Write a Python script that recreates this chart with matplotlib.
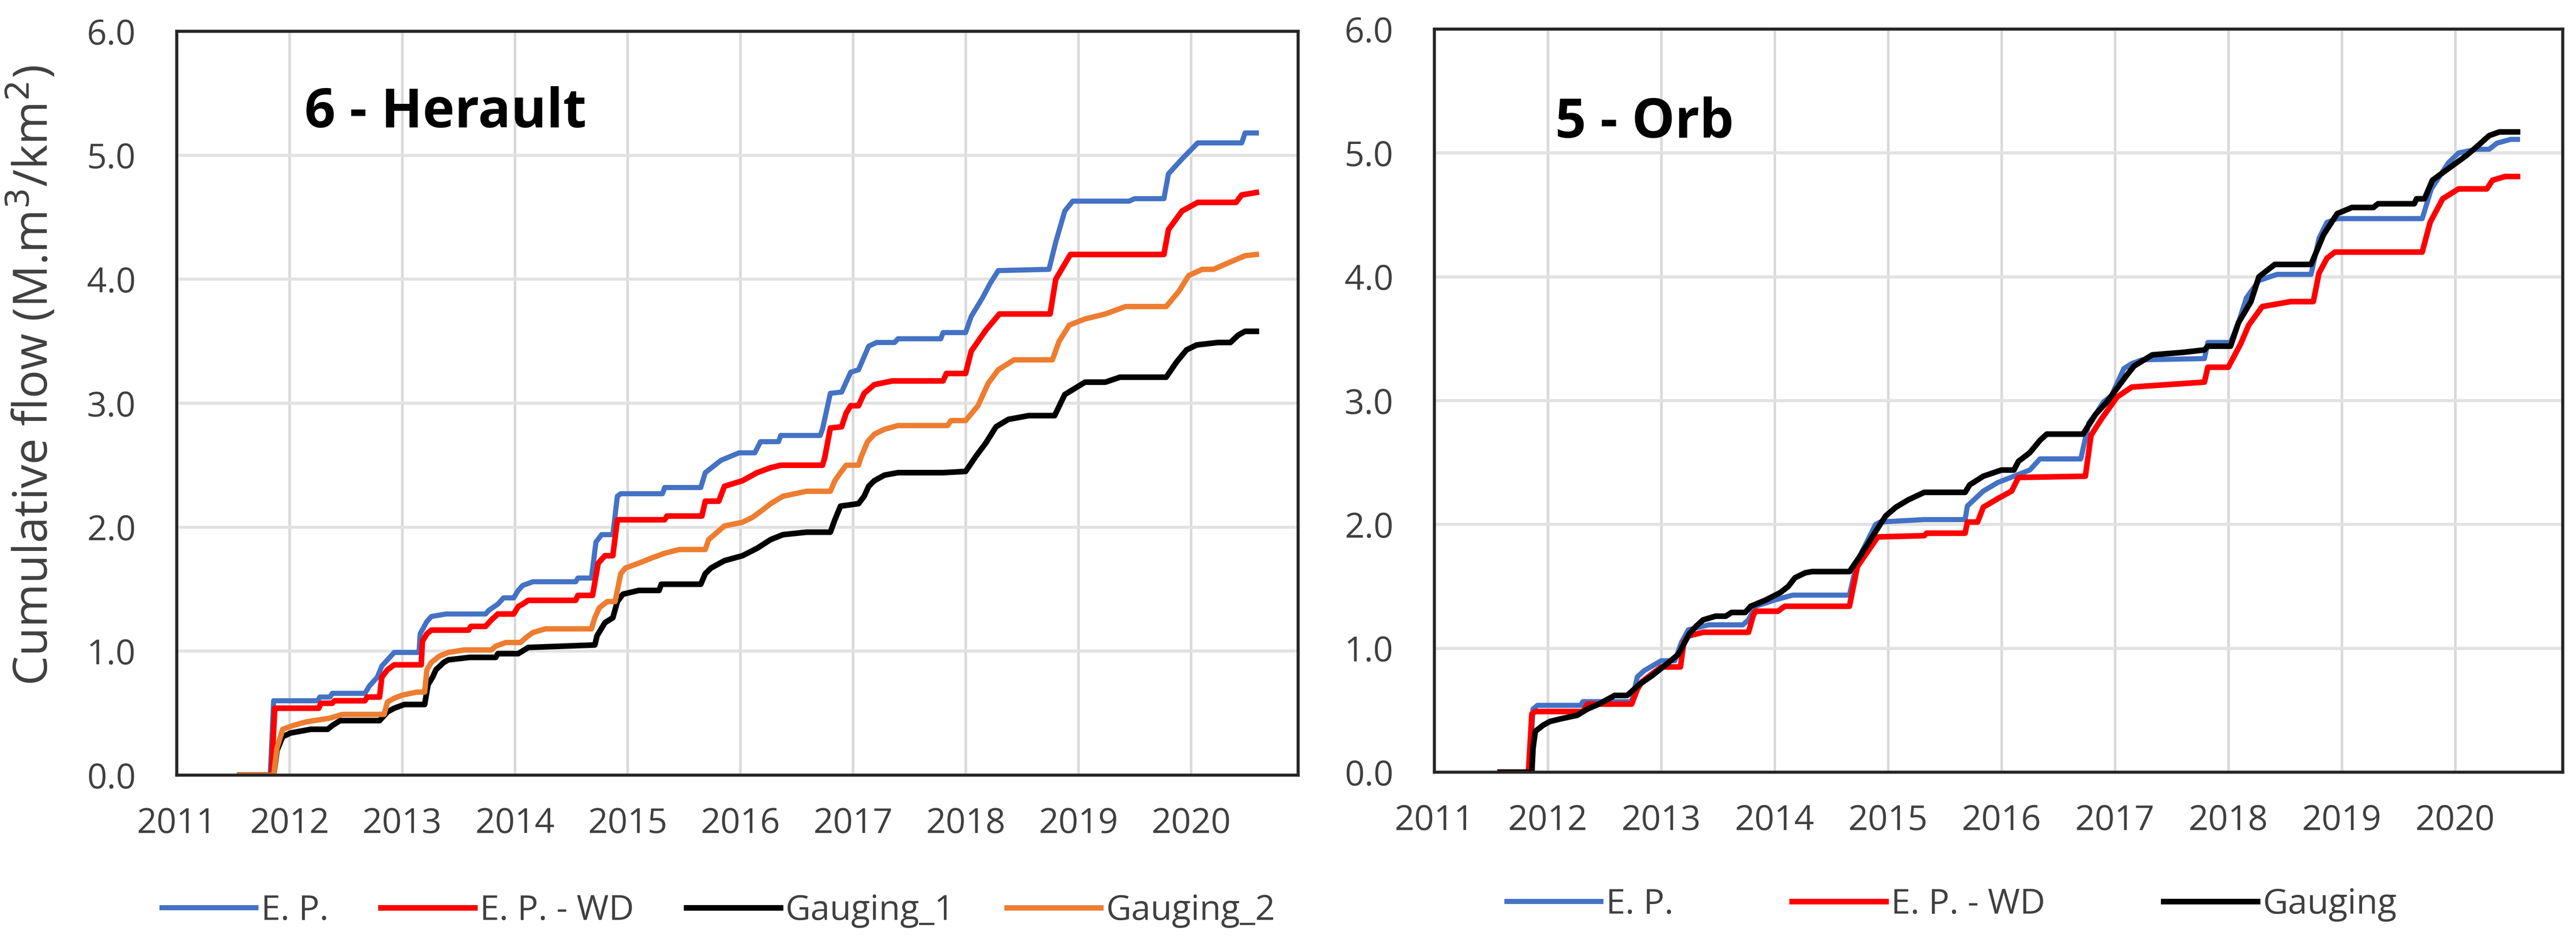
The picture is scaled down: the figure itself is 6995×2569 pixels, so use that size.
import numpy as np
import matplotlib
matplotlib.use('Agg')
import matplotlib.pyplot as plt

plt.rcParams['font.family'] = ['Open Sans', 'DejaVu Sans']

# ---- 6 - Herault ----
her_ep_x = [2011.56, 2011.83, 2011.86, 2012.25, 2012.27, 2012.36, 2012.38, 2012.67, 2012.71, 2012.78,
            2012.82, 2012.87, 2012.93, 2013.15, 2013.16, 2013.22, 2013.26, 2013.39, 2013.74, 2013.77,
            2013.85, 2013.90, 2013.99, 2014.03, 2014.07, 2014.16, 2014.54, 2014.56, 2014.68, 2014.72,
            2014.77, 2014.87, 2014.91, 2014.94, 2015.31, 2015.33, 2015.65, 2015.69, 2015.83, 2015.99,
            2016.13, 2016.18, 2016.34, 2016.36, 2016.71, 2016.73, 2016.80, 2016.90, 2016.98, 2017.05,
            2017.14, 2017.21, 2017.37, 2017.40, 2017.78, 2017.80, 2018.00, 2018.05, 2018.15, 2018.22,
            2018.29, 2018.74, 2018.80, 2018.88, 2018.95, 2019.45, 2019.50, 2019.76, 2019.80, 2019.92,
            2020.06, 2020.45, 2020.48, 2020.58]
her_ep_y = [0.0, 0.0, 0.60, 0.60, 0.63, 0.63, 0.66, 0.66, 0.72, 0.79,
            0.88, 0.93, 0.99, 0.99, 1.14, 1.24, 1.28, 1.30, 1.30, 1.33,
            1.38, 1.43, 1.43, 1.49, 1.53, 1.56, 1.56, 1.59, 1.59, 1.88,
            1.94, 1.94, 2.25, 2.27, 2.27, 2.32, 2.32, 2.44, 2.54, 2.60,
            2.60, 2.69, 2.69, 2.74, 2.74, 2.79, 3.08, 3.09, 3.25, 3.27,
            3.46, 3.49, 3.49, 3.52, 3.52, 3.57, 3.57, 3.70, 3.85, 3.97,
            4.07, 4.08, 4.30, 4.55, 4.63, 4.63, 4.65, 4.65, 4.85, 4.97,
            5.10, 5.10, 5.18, 5.18]

her_wd_x = [2011.56, 2011.84, 2011.87, 2012.26, 2012.28, 2012.38, 2012.40, 2012.67, 2012.69, 2012.80,
            2012.82, 2012.87, 2012.93, 2013.17, 2013.18, 2013.22, 2013.26, 2013.59, 2013.61, 2013.74,
            2013.79, 2013.85, 2013.99, 2014.03, 2014.07, 2014.12, 2014.54, 2014.56, 2014.69, 2014.74,
            2014.80, 2014.87, 2014.91, 2015.33, 2015.35, 2015.66, 2015.69, 2015.81, 2015.86, 2016.02,
            2016.15, 2016.27, 2016.36, 2016.73, 2016.75, 2016.80, 2016.90, 2016.94, 2016.98, 2017.05,
            2017.10, 2017.19, 2017.35, 2017.80, 2017.83, 2018.00, 2018.05, 2018.18, 2018.30, 2018.75,
            2018.80, 2018.93, 2019.76, 2019.80, 2019.92, 2020.06, 2020.40, 2020.45, 2020.58]
her_wd_y = [0.0, 0.0, 0.54, 0.54, 0.58, 0.58, 0.60, 0.60, 0.63, 0.63,
            0.79, 0.85, 0.89, 0.89, 1.08, 1.14, 1.17, 1.17, 1.20, 1.20,
            1.25, 1.30, 1.30, 1.36, 1.38, 1.41, 1.41, 1.45, 1.45, 1.71,
            1.77, 1.77, 2.06, 2.06, 2.09, 2.09, 2.21, 2.21, 2.33, 2.375,
            2.44, 2.48, 2.50, 2.50, 2.56, 2.80, 2.81, 2.92, 2.98, 2.98,
            3.08, 3.15, 3.18, 3.18, 3.24, 3.24, 3.42, 3.59, 3.72, 3.72,
            4.00, 4.20, 4.20, 4.40, 4.55, 4.62, 4.62, 4.68, 4.70]

her_g1_x = [2011.56, 2011.86, 2011.89, 2011.94, 2012.01, 2012.19, 2012.34, 2012.38, 2012.45, 2012.80,
            2012.87, 2012.93, 2013.02, 2013.20, 2013.23, 2013.27, 2013.30, 2013.37, 2013.41, 2013.60,
            2013.83, 2013.85, 2014.03, 2014.12, 2014.71, 2014.73, 2014.80, 2014.87, 2014.91, 2014.96,
            2015.10, 2015.28, 2015.30, 2015.65, 2015.69, 2015.74, 2015.86, 2016.02, 2016.15, 2016.27,
            2016.38, 2016.59, 2016.80, 2016.84, 2016.89, 2017.05, 2017.10, 2017.14, 2017.19, 2017.28,
            2017.40, 2017.80, 2018.00, 2018.09, 2018.18, 2018.27, 2018.38, 2018.56, 2018.79, 2018.88,
            2018.97, 2019.06, 2019.24, 2019.37, 2019.78, 2019.87, 2019.96, 2020.05, 2020.24, 2020.35,
            2020.42, 2020.48, 2020.58]
her_g1_y = [0.0, 0.0, 0.20, 0.31, 0.34, 0.37, 0.37, 0.40, 0.44, 0.44,
            0.51, 0.54, 0.57, 0.57, 0.73, 0.79, 0.85, 0.91, 0.93, 0.95,
            0.95, 0.98, 0.98, 1.03, 1.05, 1.125, 1.23, 1.27, 1.40, 1.46,
            1.49, 1.49, 1.54, 1.54, 1.625, 1.67, 1.73, 1.77, 1.83, 1.90,
            1.94, 1.96, 1.96, 2.06, 2.17, 2.19, 2.25, 2.33, 2.375, 2.42,
            2.44, 2.44, 2.45, 2.57, 2.68, 2.81, 2.87, 2.90, 2.90, 3.07,
            3.12, 3.17, 3.17, 3.21, 3.21, 3.33, 3.43, 3.47, 3.49, 3.49,
            3.55, 3.58, 3.58]

her_g2_x = [2011.56, 2011.86, 2011.89, 2011.94, 2012.03, 2012.15, 2012.36, 2012.47, 2012.84, 2012.87,
            2012.93, 2013.00, 2013.13, 2013.20, 2013.22, 2013.26, 2013.33, 2013.41, 2013.55, 2013.79,
            2013.83, 2013.92, 2014.05, 2014.10, 2014.16, 2014.27, 2014.68, 2014.71, 2014.75, 2014.82,
            2014.89, 2014.94, 2014.98, 2015.10, 2015.21, 2015.33, 2015.46, 2015.69, 2015.72, 2015.86,
            2016.02, 2016.11, 2016.20, 2016.27, 2016.38, 2016.59, 2016.80, 2016.84, 2016.89, 2016.94,
            2017.05, 2017.07, 2017.13, 2017.19, 2017.28, 2017.40, 2017.84, 2017.87, 2018.00, 2018.11,
            2018.20, 2018.29, 2018.43, 2018.77, 2018.83, 2018.92, 2019.06, 2019.24, 2019.42, 2019.78,
            2019.89, 2019.98, 2020.10, 2020.20, 2020.30, 2020.48, 2020.58]
her_g2_y = [0.0, 0.0, 0.22, 0.37, 0.40, 0.43, 0.46, 0.49, 0.49, 0.59,
            0.62, 0.645, 0.67, 0.67, 0.85, 0.91, 0.96, 0.99, 1.01, 1.01,
            1.04, 1.07, 1.07, 1.11, 1.15, 1.18, 1.18, 1.27, 1.35, 1.40,
            1.40, 1.625, 1.67, 1.71, 1.75, 1.79, 1.82, 1.82, 1.90, 2.01,
            2.04, 2.08, 2.14, 2.19, 2.25, 2.29, 2.29, 2.375, 2.44, 2.50,
            2.50, 2.56, 2.69, 2.75, 2.79, 2.82, 2.82, 2.86, 2.86, 2.98,
            3.16, 3.27, 3.35, 3.35, 3.50, 3.63, 3.68, 3.72, 3.78, 3.78,
            3.90, 4.03, 4.08, 4.08, 4.12, 4.19, 4.20]

# ---- 5 - Orb ----
orb_ep_x = [2011.58, 2011.84, 2011.87, 2011.91, 2012.29, 2012.31, 2012.74, 2012.79, 2012.85, 2013.00,
            2013.12, 2013.18, 2013.24, 2013.42, 2013.72, 2013.77, 2013.83, 2014.00, 2014.16, 2014.66,
            2014.73, 2014.77, 2014.89, 2014.93, 2015.32, 2015.68, 2015.70, 2015.84, 2015.97, 2016.11,
            2016.25, 2016.34, 2016.70, 2016.77, 2016.83, 2016.90, 2016.97, 2017.08, 2017.15, 2017.24,
            2017.79, 2017.82, 2018.02, 2018.09, 2018.16, 2018.27, 2018.43, 2018.73, 2018.80, 2018.87,
            2018.96, 2019.71, 2019.79, 2019.94, 2020.03, 2020.19, 2020.30, 2020.37, 2020.49, 2020.55]
orb_ep_y = [0.0, 0.0, 0.51, 0.54, 0.54, 0.57, 0.57, 0.77, 0.82, 0.90,
            0.90, 1.05, 1.15, 1.19, 1.19, 1.23, 1.34, 1.39, 1.43, 1.43,
            1.71, 1.78, 2.00, 2.02, 2.04, 2.04, 2.15, 2.27, 2.34, 2.39,
            2.44, 2.53, 2.53, 2.82, 2.89, 2.99, 3.04, 3.26, 3.30, 3.33,
            3.34, 3.47, 3.47, 3.63, 3.83, 3.97, 4.02, 4.02, 4.31, 4.44,
            4.47, 4.47, 4.71, 4.92, 5.00, 5.03, 5.03, 5.08, 5.11, 5.11]

orb_wd_x = [2011.58, 2011.83, 2011.86, 2011.89, 2012.31, 2012.35, 2012.74, 2012.79, 2012.83, 2012.90,
            2013.00, 2013.17, 2013.20, 2013.24, 2013.37, 2013.77, 2013.81, 2013.83, 2014.03, 2014.09,
            2014.66, 2014.73, 2014.91, 2015.32, 2015.34, 2015.68, 2015.70, 2015.79, 2015.84, 2015.97,
            2016.09, 2016.15, 2016.74, 2016.79, 2016.88, 2017.02, 2017.15, 2017.79, 2017.82, 2018.00,
            2018.11, 2018.18, 2018.30, 2018.55, 2018.75, 2018.80, 2018.87, 2018.94, 2019.71, 2019.78,
            2019.89, 2020.03, 2020.28, 2020.33, 2020.44, 2020.55]
orb_wd_y = [0.0, 0.0, 0.47, 0.49, 0.49, 0.55, 0.55, 0.67, 0.73, 0.78,
            0.85, 0.85, 1.05, 1.10, 1.13, 1.13, 1.26, 1.30, 1.30, 1.34,
            1.34, 1.66, 1.90, 1.91, 1.93, 1.93, 2.02, 2.02, 2.14, 2.21,
            2.27, 2.38, 2.39, 2.72, 2.85, 3.03, 3.11, 3.15, 3.27, 3.27,
            3.46, 3.61, 3.76, 3.80, 3.80, 4.03, 4.15, 4.20, 4.20, 4.44,
            4.63, 4.71, 4.71, 4.78, 4.81, 4.81]

orb_g_x = [2011.58, 2011.86, 2011.87, 2011.89, 2011.96, 2012.02, 2012.11, 2012.26, 2012.35, 2012.45,
           2012.59, 2012.70, 2012.81, 2012.92, 2013.03, 2013.15, 2013.25, 2013.31, 2013.37, 2013.48,
           2013.57, 2013.62, 2013.74, 2013.79, 2013.92, 2014.05, 2014.12, 2014.18, 2014.27, 2014.33,
           2014.66, 2014.75, 2014.93, 2014.98, 2015.07, 2015.18, 2015.32, 2015.68, 2015.72, 2015.84,
           2016.00, 2016.11, 2016.15, 2016.25, 2016.34, 2016.40, 2016.72, 2016.83, 2016.93, 2017.10,
           2017.17, 2017.33, 2017.60, 2017.79, 2017.82, 2018.02, 2018.09, 2018.20, 2018.27, 2018.41,
           2018.73, 2018.84, 2018.96, 2019.09, 2019.28, 2019.32, 2019.64, 2019.66, 2019.73, 2019.80,
           2019.98, 2020.10, 2020.19, 2020.30, 2020.39, 2020.55]
orb_g_y = [0.0, 0.0, 0.19, 0.33, 0.38, 0.41, 0.43, 0.46, 0.51, 0.55,
           0.62, 0.62, 0.71, 0.78, 0.86, 0.95, 1.12, 1.18, 1.23, 1.26,
           1.26, 1.29, 1.29, 1.34, 1.39, 1.45, 1.50, 1.57, 1.61, 1.62,
           1.62, 1.74, 2.00, 2.07, 2.14, 2.20, 2.26, 2.26, 2.32, 2.39,
           2.44, 2.44, 2.51, 2.58, 2.68, 2.73, 2.73, 2.89, 2.99, 3.20,
           3.28, 3.37, 3.39, 3.41, 3.44, 3.44, 3.63, 3.80, 4.00, 4.10,
           4.10, 4.34, 4.51, 4.56, 4.56, 4.59, 4.59, 4.63, 4.63, 4.78,
           4.90, 4.98, 5.05, 5.14, 5.17, 5.17]

years = list(range(2011, 2021))
yticks = [0, 1, 2, 3, 4, 5, 6]

c_blue = '#4472C4'
c_red = '#FF0000'
c_black = '#000000'
c_orange = '#ED7D31'
txt_col = '#404040'

fig = plt.figure(figsize=(69.95, 25.69), dpi=100)
ax1 = fig.add_axes([0.0686, 0.1806, 0.4353, 0.7863])
ax2 = fig.add_axes([0.5568, 0.1837, 0.4381, 0.7855])


def style(ax):
    ax.set_xlim(2011, 2020.95)
    ax.set_ylim(0, 6)
    ax.set_xticks(years)
    ax.set_yticks(yticks)
    ax.set_yticklabels([f'{v:.1f}' for v in yticks])
    ax.grid(axis='x', color='#D9D9D9', lw=5)
    ax.grid(axis='y', color='#E2E2E2', lw=6)
    ax.set_axisbelow(True)
    ax.tick_params(axis='both', length=0, labelsize=68, labelcolor=txt_col)
    ax.tick_params(axis='y', pad=80)
    ax.tick_params(axis='x', pad=62)
    for s in ax.spines.values():
        s.set_color('#262626')
        s.set_linewidth(6)


style(ax1)
ax1.plot(her_ep_x, her_ep_y, color=c_blue, lw=10, label='E. P.')
ax1.plot(her_wd_x, her_wd_y, color=c_red, lw=11, label='E. P. - WD')
ax1.plot(her_g1_x, her_g1_y, color=c_black, lw=11, label='Gauging_1')
ax1.plot(her_g2_x, her_g2_y, color=c_orange, lw=10.5, label='Gauging_2')
ax1.text(0.114, 0.89, '6 - Herault', transform=ax1.transAxes, fontsize=106,
         fontweight='bold', va='center', ha='left')
ax1.legend(loc='center', bbox_to_anchor=(1951 / 6995, 0.037), bbox_transform=fig.transFigure,
           ncol=4, frameon=False, fontsize=68, labelcolor=txt_col, handlelength=2.7,
           handletextpad=0.15, columnspacing=1.5)

style(ax2)
ax2.plot(orb_ep_x, orb_ep_y, color=c_blue, lw=10, label='E. P.')
ax2.plot(orb_wd_x, orb_wd_y, color=c_red, lw=11, label='E. P. - WD')
ax2.plot(orb_g_x, orb_g_y, color=c_black, lw=11, label='Gauging')
ax2.text(0.107, 0.873, '5 - Orb', transform=ax2.transAxes, fontsize=106,
         fontweight='bold', va='center', ha='left')
ax2.legend(loc='center', bbox_to_anchor=(5300 / 6995, 0.0436), bbox_transform=fig.transFigure,
           ncol=3, frameon=False, fontsize=68, labelcolor=txt_col, handlelength=2.7,
           handletextpad=0.15, columnspacing=3.4)

fig.text(90 / 6995, 1 - 1020 / 2569, 'Cumulative flow (M.m$^3$/km$^2$)', rotation=90,
         ha='center', va='center', fontsize=92, color=txt_col)

fig.savefig('out.png', dpi=100)
